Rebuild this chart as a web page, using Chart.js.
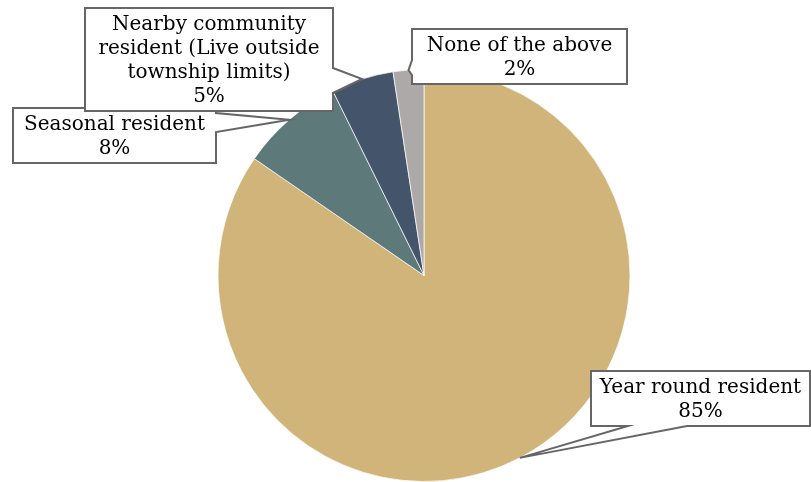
<!DOCTYPE html>
<html>
<head>
<meta charset="utf-8">
<script src="https://cdn.jsdelivr.net/npm/chart.js@4"></script>
<style>
html,body{margin:0;padding:0;background:#fff;}
#wrap{width:811px;height:482px;}
</style>
</head>
<body>
<div id="wrap"><canvas id="c" width="811" height="482"></canvas></div>
<script>
// ---- data ----
const categories = ['Year round resident', 'Seasonal resident', 'Nearby community resident (Live outside township limits)', 'None of the above'];
const values = [84.6, 8.1, 4.9, 2.4];
const percentLabels = ['85%', '8%', '5%', '2%'];
const labelLines = [
  ['Year round resident'],
  ['Seasonal resident'],
  ['Nearby community', 'resident (Live outside', 'township limits)'],
  ['None of the above']
];
const colors = ['#D1B47A', '#5E7979', '#43546B', '#ADA9A8'];

// ---- callout layout (box + pointer base) ----
const callouts = [
  {i: 1, box: [13, 108, 216, 163], side: 'right', base: [113, 132]},
  {i: 2, box: [85, 8, 333, 111], side: 'right', base: [68, 93]},
  {i: 3, box: [412, 29, 627, 84], side: 'left', base: [60, 75]},
  {i: 0, box: [591, 371, 810, 426], side: 'bottom', base: [628, 687]}
];

const calloutPlugin = {
  id: 'callouts',
  afterDatasetsDraw(chart) {
    const ctx = chart.ctx;
    const meta = chart.getDatasetMeta(0);
    ctx.save();
    callouts.forEach(c => {
      const arc = meta.data[c.i];
      const p = arc.getProps(['x', 'y', 'startAngle', 'endAngle', 'outerRadius'], true);
      const mid = (p.startAngle + p.endAngle) / 2;
      const tx = p.x + Math.cos(mid) * p.outerRadius;
      const ty = p.y + Math.sin(mid) * p.outerRadius;
      const [x1, y1, x2, y2] = c.box;
      const [a, b] = c.base;
      ctx.beginPath();
      if (c.side === 'right') {
        ctx.moveTo(x1, y1); ctx.lineTo(x2, y1); ctx.lineTo(x2, a); ctx.lineTo(tx, ty);
        ctx.lineTo(x2, b); ctx.lineTo(x2, y2); ctx.lineTo(x1, y2);
      } else if (c.side === 'left') {
        ctx.moveTo(x1, y1); ctx.lineTo(x2, y1); ctx.lineTo(x2, y2); ctx.lineTo(x1, y2);
        ctx.lineTo(x1, b); ctx.lineTo(tx, ty); ctx.lineTo(x1, a);
      } else {
        ctx.moveTo(x1, y1); ctx.lineTo(x2, y1); ctx.lineTo(x2, y2); ctx.lineTo(b, y2);
        ctx.lineTo(tx, ty); ctx.lineTo(a, y2); ctx.lineTo(x1, y2);
      }
      ctx.closePath();
      ctx.fillStyle = '#ffffff';
      ctx.fill();
      ctx.lineWidth = 2;
      ctx.lineJoin = 'miter';
      ctx.strokeStyle = '#666666';
      ctx.stroke();

      const lines = labelLines[c.i].concat([percentLabels[c.i]]);
      ctx.fillStyle = '#000000';
      ctx.font = '20px "DejaVu Serif"';
      ctx.textAlign = 'center';
      ctx.textBaseline = 'middle';
      const cx = (x1 + x2) / 2, cy = (y1 + y2) / 2;
      const lh = 24;
      lines.forEach((t, k) => {
        ctx.fillText(t, cx, cy + (k - (lines.length - 1) / 2) * lh + 1);
      });
    });
    ctx.restore();
  }
};

new Chart(document.getElementById('c'), {
  type: 'pie',
  data: {
    labels: categories,
    datasets: [{
      data: values,
      backgroundColor: colors,
      borderColor: 'rgba(255,255,255,0.7)',
      borderWidth: 1
    }]
  },
  options: {
    responsive: false,
    devicePixelRatio: 1,
    animation: false,
    layout: {padding: {top: 69, bottom: 0, left: 37, right: 0}},
    plugins: {legend: {display: false}, tooltip: {enabled: false}}
  },
  plugins: [calloutPlugin]
});
</script>
</body>
</html>
